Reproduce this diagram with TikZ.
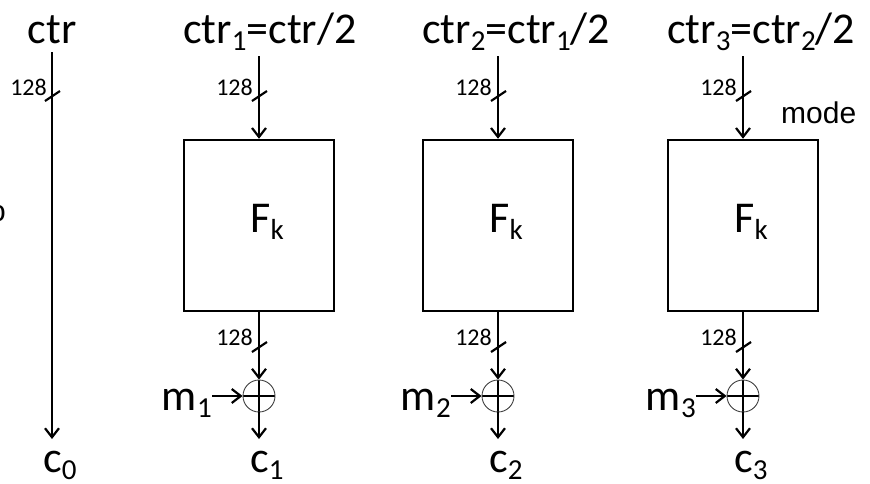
\documentclass[tikz,border=0pt]{standalone}
\usepackage{fontspec}
\setmainfont{Carlito}
\newfontfamily\arialf{Liberation Sans}
\usetikzlibrary{arrows.meta}
\newcommand\sbs[1]{\raisebox{-7pt}{\fontsize{29}{29}\selectfont #1}}
\begin{document}
\begin{tikzpicture}[x=1pt,y=-1pt]
\tikzset{
  lbl/.style={inner sep=0pt, font=\fontsize{44}{44}\selectfont},
  num/.style={inner sep=0pt, anchor=base east, font=\fontsize{24}{24}\selectfont},
  fbox/.style={draw, line width=2.5pt, minimum width=150pt, minimum height=171pt, inner sep=0pt},
  xorc/.style={circle, draw=black!75, line width=0.9pt, minimum size=32pt, inner sep=0pt,
     path picture={\draw[line width=2.2pt,black] (path picture bounding box.north) -- (path picture bounding box.south) (path picture bounding box.west) -- (path picture bounding box.east);}},
  arr/.style={line width=2.2pt, -{Straight Barb[length=9pt,width=14pt,line width=2.2pt]}},
  tick/.style={line width=2.2pt},
  sans/.style={inner sep=0pt, font=\arialf\fontsize{30}{30}\selectfont},
}
\useasboundingbox (0,0) rectangle (870,483);
% partially visible letter at the left edge
\node[sans, anchor=base east] (o) at (6,221) {o};
% column 0
\node[lbl, anchor=base] (t0) at (52,43) {ctr};
\coordinate (a0) at (52,52);
\coordinate (e0) at (52,439);
\draw[arr] (a0) -- (e0);
\draw[tick] (45,101) -- (60,91);
\node[num] (n0) at (47,95) {128};
\node[lbl, anchor=base west] (c0) at (43,472) {c\sbs{0}};
% columns 1-3
\foreach \i/\x/\bl/\lab in {1/259/184/{ctr\sbs{1}=ctr/2}, 2/498/423/{ctr\sbs{2}=ctr\sbs{1}/2}, 3/743/668/{ctr\sbs{3}=ctr\sbs{2}/2}} {
  \node[lbl, anchor=base west] (t\i) at (\bl-1,43) {\lab};
  \node[fbox] (b\i) at (\x,225.5) {};
  \node[lbl, anchor=base] (f\i) at (\x+8,232) {F\sbs{k}};
  \coordinate (a\i) at (\x,56);
  \draw[arr] (a\i) -- (b\i.north);
  \draw[tick] (\x-7,101) -- (\x+8,91);
  \node[num] (nt\i) at (\x-6,95) {128};
  \node[xorc] (x\i) at (\x,396) {};
  \draw[arr] (b\i.south) -- (x\i.north);
  \draw[tick] (\x-7,352) -- (\x+8,342);
  \node[num] (nb\i) at (\x-6,345) {128};
  \node[lbl, anchor=base east] (m\i) at (\x-47,410) {m\sbs{\i}};
  \draw[arr] (m\i.east |- x\i.west) -- (x\i.west);
  \coordinate (e\i) at (\x,439);
  \draw[arr] (x\i.south) -- (e\i);
  \node[lbl, anchor=base west] (c\i) at (\x-9,472) {c\sbs{\i}};
}
\node[sans, anchor=base west] (mode) at (781,123) {mode};
\end{tikzpicture}
\end{document}
